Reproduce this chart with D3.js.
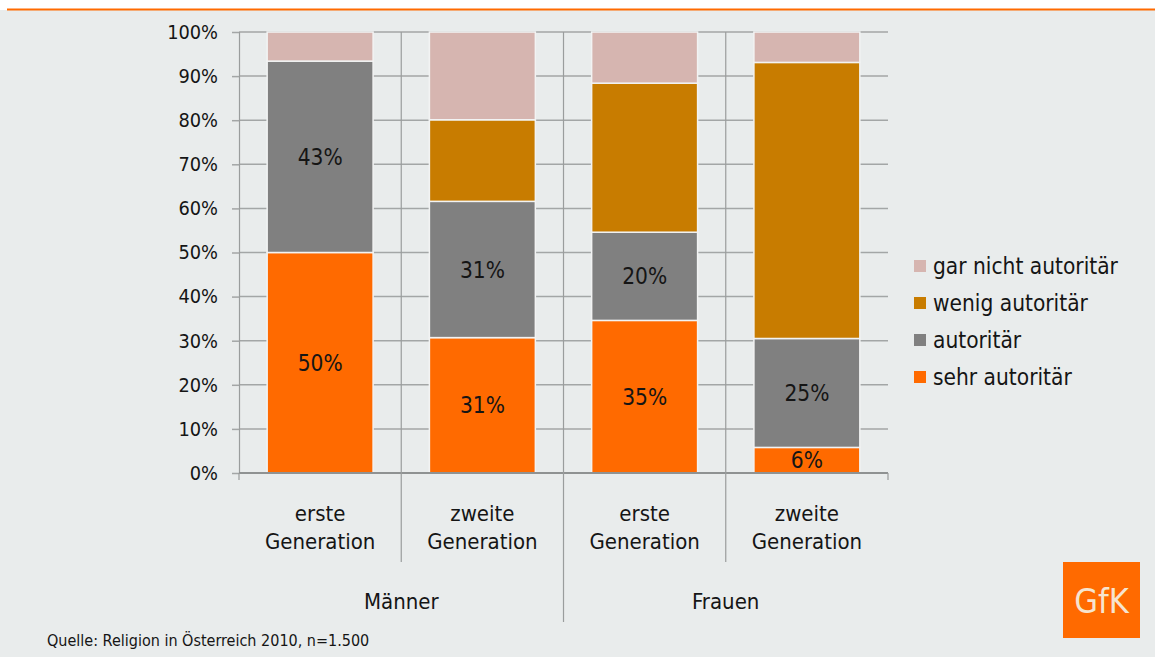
<!DOCTYPE html>
<html>
<head>
<meta charset="utf-8">
<script src="https://cdn.jsdelivr.net/npm/d3@7"></script>
<style>
   html, body { margin: 0; padding: 0; background: #ffffff; }
   svg text {
      font-family: "DejaVu Sans Condensed", "DejaVu Sans", sans-serif;
      font-stretch: condensed;
      fill: #151515;
   }
</style>
</head>
<body>
<svg id="chart" width="1155" height="657"></svg>
<script>
var width = 1155,
   height = 657;

// Daten
var catKeys = ["m1", "m2", "f1", "f2"];
var catLabels = [
   ["erste", "Generation"],
   ["zweite", "Generation"],
   ["erste", "Generation"],
   ["zweite", "Generation"],
];
var groupNames = ["Männer", "Frauen"];
var seriesNames = [
   "sehr autoritär",
   "autoritär",
   "wenig autoritär",
   "gar nicht autoritär",
];
var sehrAutoritaer = [50, 30.7, 34.6, 5.8];
var autoritaer = [43.4, 30.9, 20.0, 24.7];
var wenigAutoritaer = [0, 18.5, 33.8, 62.6];
var garNichtAutoritaer = [6.6, 19.9, 11.6, 6.9];
var yTicks = [0, 10, 20, 30, 40, 50, 60, 70, 80, 90, 100];

var colors = ["#ff6a00", "#808080", "#c87c00", "#d6b5b0"];

var plot = { left: 239, right: 888, top: 32, bottom: 473 };

var rows = catKeys.map(function (k, i) {
   return {
      key: k,
      s0: sehrAutoritaer[i],
      s1: autoritaer[i],
      s2: wenigAutoritaer[i],
      s3: garNichtAutoritaer[i],
   };
});

var svg = d3.select("svg#chart");

// Hintergrund + orange Linie oben
svg.append("rect")
   .attr("x", 0).attr("y", 10)
   .attr("width", width).attr("height", height - 10)
   .attr("fill", "#e9ecec");
svg.append("line")
   .attr("x1", 7).attr("x2", width)
   .attr("y1", 9.5).attr("y2", 9.5)
   .attr("stroke", "#ff6a00")
   .attr("stroke-width", 2);

// Skalen
var x = d3
   .scaleBand()
   .domain(catKeys)
   .range([plot.left, plot.right])
   .paddingInner(0.347)
   .paddingOuter(0.1735);

var y = d3.scaleLinear().domain([0, 100]).range([plot.bottom, plot.top]);

// Gitternetz
svg.append("g")
   .selectAll("line")
   .data(yTicks)
   .enter()
   .append("line")
   .attr("x1", plot.left)
   .attr("x2", plot.right)
   .attr("y1", function (d) { return y(d); })
   .attr("y2", function (d) { return y(d); })
   .attr("stroke", "#a3a6a6")
   .attr("stroke-width", 1.5);

// Y-Achse
var yAxis = svg.append("g")
   .attr("transform", "translate(" + plot.left + ",0)")
   .call(
      d3.axisLeft(y)
         .tickValues(yTicks)
         .tickSize(7)
         .tickPadding(14)
         .tickFormat(function (d) { return d + "%"; })
   );
yAxis.select(".domain").attr("stroke", "#9a9d9d").attr("stroke-width", 1.2);
yAxis.selectAll(".tick line").attr("stroke", "#a3a6a6").attr("stroke-width", 1.5);
yAxis.selectAll(".tick text")
   .style("font-size", "19.8px")
   .attr("fill", "#151515");

// Balken
var stack = d3.stack().keys(["s0", "s1", "s2", "s3"]);
var series = stack(rows);

var layers = svg.append("g")
   .selectAll("g")
   .data(series)
   .enter()
   .append("g")
   .attr("fill", function (d, i) { return colors[i]; });

layers.selectAll("rect")
   .data(function (d) { return d; })
   .enter()
   .filter(function (d) { return d[1] - d[0] > 0; })
   .append("rect")
   .attr("x", function (d) { return x(d.data.key); })
   .attr("width", x.bandwidth())
   .attr("y", function (d) { return y(d[1]); })
   .attr("height", function (d) { return y(d[0]) - y(d[1]); })
   .attr("stroke", "#f2f3f3")
   .attr("stroke-width", 1.5);

// Werte-Beschriftungen (nur sehr autoritär + autoritär)
series.slice(0, 2).forEach(function (s) {
   svg.append("g")
      .selectAll("text")
      .data(s)
      .enter()
      .append("text")
      .attr("x", function (d) { return x(d.data.key) + x.bandwidth() / 2; })
      .attr("y", function (d) { return y((d[0] + d[1]) / 2); })
      .attr("dy", "0.36em")
      .attr("text-anchor", "middle")
      .style("font-size", "22.5px")
      .text(function (d) { return Math.round(d[1] - d[0]) + "%"; });
});

// X-Achse mit Kategorien
var step = x.step();
var bounds = catKeys.map(function (k) { return x(k) - (step * x.paddingInner()) / 2; });
bounds.push(plot.right);

svg.append("line")
   .attr("x1", plot.left).attr("x2", plot.right)
   .attr("y1", plot.bottom).attr("y2", plot.bottom)
   .attr("stroke", "#8f9292")
   .attr("stroke-width", 2.2);

var sepG = svg.append("g").attr("stroke", "#9a9d9d").attr("stroke-width", 1.2);
bounds.forEach(function (b, i) {
   var y2 = plot.bottom + 7;
   if (i === 1 || i === 3) y2 = 562;
   if (i === 2) y2 = 622;
   sepG.append("line")
      .attr("x1", b).attr("x2", b)
      .attr("y1", i === 0 || i === 4 ? plot.bottom : plot.top)
      .attr("y2", y2);
});

svg.append("g")
   .selectAll("text")
   .data(catKeys)
   .enter()
   .append("text")
   .attr("text-anchor", "middle")
   .style("font-size", "22px")
   .attr("transform", function (d) {
      return "translate(" + (x(d) + x.bandwidth() / 2) + ",521)";
   })
   .each(function (d, i) {
      var t = d3.select(this);
      catLabels[i].forEach(function (line, j) {
         t.append("tspan").attr("x", 0).attr("y", j * 28).text(line);
      });
   });

svg.append("g")
   .selectAll("text")
   .data(groupNames)
   .enter()
   .append("text")
   .attr("text-anchor", "middle")
   .style("font-size", "22px")
   .attr("x", function (d, i) { return (bounds[i * 2] + bounds[i * 2 + 2]) / 2; })
   .attr("y", 609)
   .text(function (d) { return d; });

// Legende
var legend = svg.append("g")
   .selectAll("g")
   .data(seriesNames.slice().reverse())
   .enter()
   .append("g")
   .attr("transform", function (d, i) {
      return "translate(914," + (266 + i * 37) + ")";
   });
legend.append("rect")
   .attr("x", 0).attr("y", -6)
   .attr("width", 12).attr("height", 12)
   .attr("fill", function (d, i) { return colors[3 - i]; });
legend.append("text")
   .attr("x", 19)
   .attr("dy", "0.35em")
   .style("font-size", "22.5px")
   .text(function (d) { return d; });

// Quelle
svg.append("text")
   .attr("x", 47)
   .attr("y", 646)
   .style("font-size", "16px")
   .text("Quelle: Religion in Österreich 2010, n=1.500");

// GfK Logo
svg.append("rect")
   .attr("x", 1063).attr("y", 562)
   .attr("width", 77).attr("height", 76)
   .attr("fill", "#ff6a00");
svg.append("text")
   .attr("x", 1101.5)
   .attr("y", 613)
   .attr("text-anchor", "middle")
   .style("font-size", "34px")
   .style("fill", "#f6e4cf")
   .text("GfK");
</script>
</body>
</html>
